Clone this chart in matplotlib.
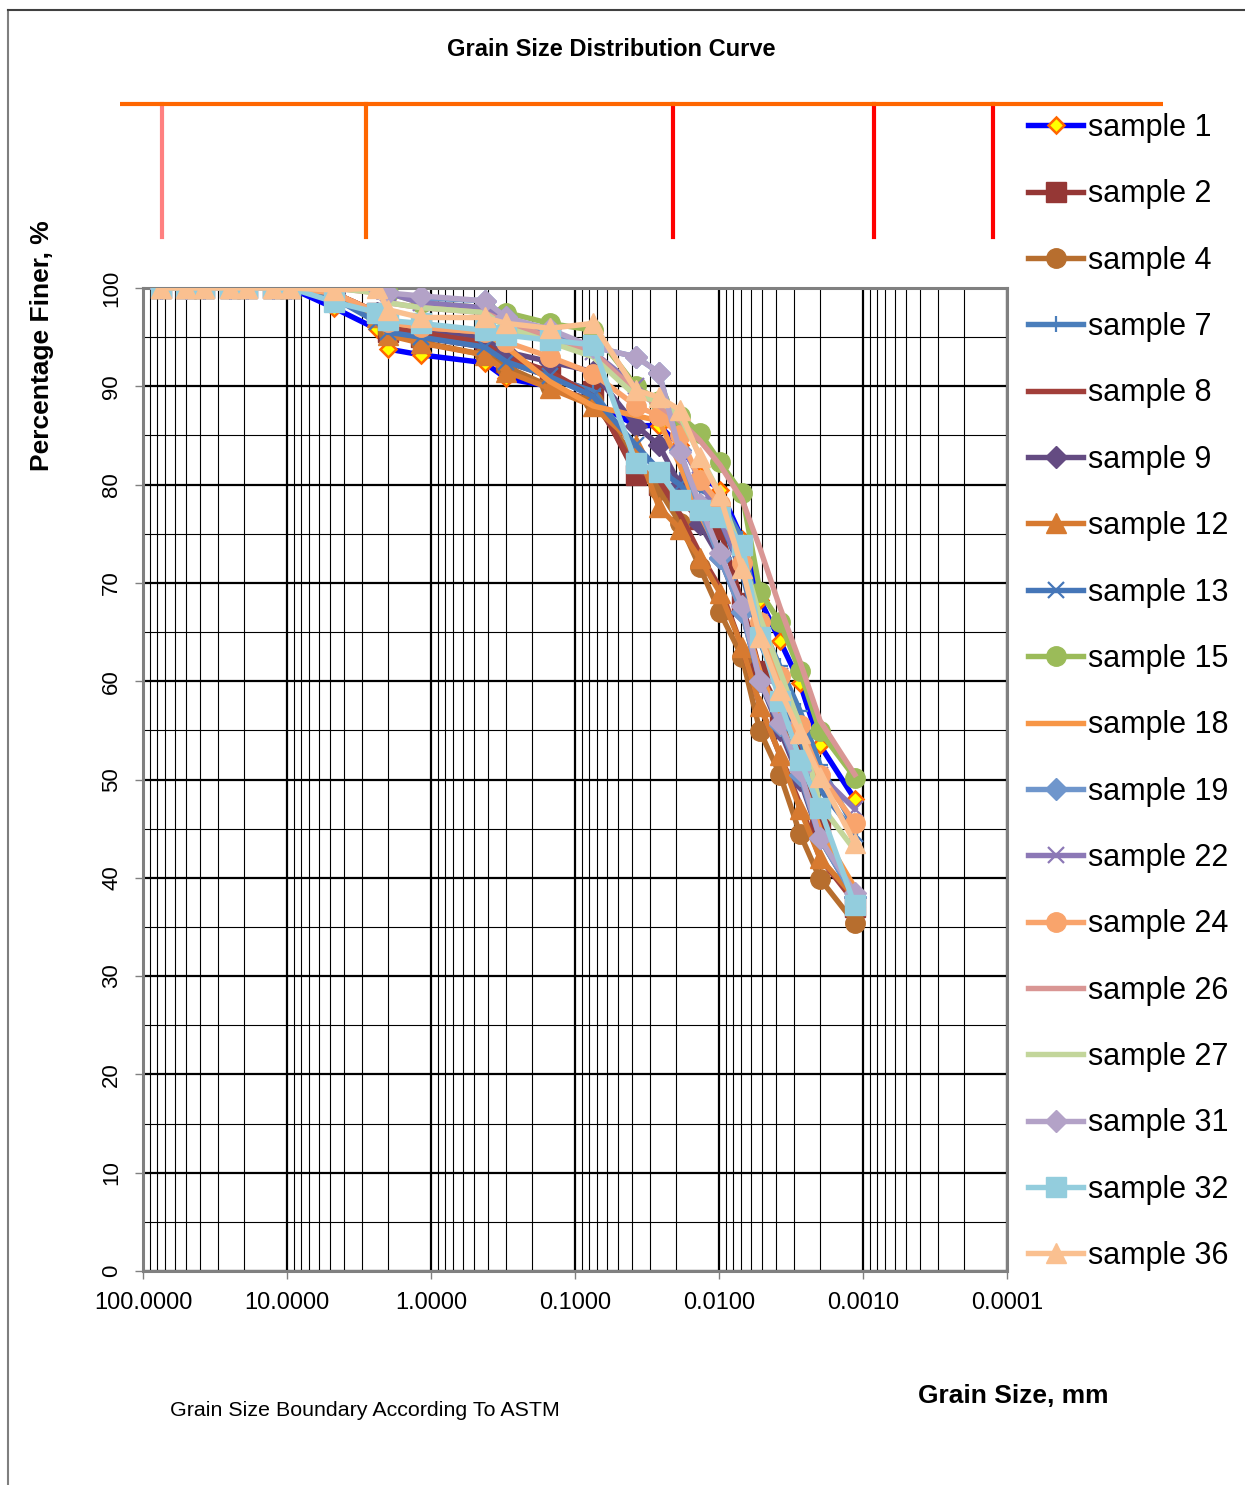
import matplotlib
matplotlib.use('Agg')
import matplotlib.pyplot as plt
from matplotlib.lines import Line2D
from matplotlib.ticker import LogLocator, MultipleLocator

plt.rcParams['font.family'] = ['Liberation Sans', 'DejaVu Sans']

# grain sizes, mm (sieves, then hydrometer readings)
sieve_mm = [75, 50, 37.5, 25, 19, 12.5, 9.5, 4.75, 2.36, 2.0, 1.18, 0.425, 0.3, 0.15, 0.075]
hydro_mm = [0.0377, 0.0261, 0.0187, 0.0136, 0.00985, 0.00692, 0.00519, 0.00377, 0.00274, 0.00199, 0.00114]
sizes = sieve_mm + hydro_mm

# percentage finer for each sample
top = [100, 100, 100, 100, 100, 100, 100]
s1 = top + [98.0, 95.8, 93.8, 93.2, 92.4, 90.8, 90.0, 88.5] + [86.0, 86.0, 84.0, 81.0, 79.5, 74.5, 68.3, 64.1, 59.8, 53.5, 48.0]
s2 = top + [99.5, 97.5, 95.5, 95.0, 94.0, 92.5, 91.0, 89.5] + [81.0, 80.0, 78.5, 76.5, 75.5, 68.0, 61.0, 57.0, 52.5, 45.5, 37.0]
s4 = top + [99.5, 97.0, 95.5, 94.5, 93.2, 92.0, 90.0, 88.5] + [82.5, 79.5, 76.1, 71.6, 67.0, 62.5, 54.9, 50.5, 44.5, 39.9, 35.4]
s7 = top + [99.0, 97.0, 96.0, 95.5, 94.5, 93.0, 91.0, 89.5] + [83.5, 81.5, 80.5, 79.5, 78.5, 74.5, 66.0, 61.5, 57.0, 51.5, 45.0]
s8 = top + [99.5, 97.5, 96.0, 95.5, 94.5, 93.0, 91.5, 89.0] + [81.5, 80.5, 77.0, 73.0, 69.5, 63.5, 57.5, 52.5, 47.5, 42.0, 37.5]
s9 = top + [99.5, 97.5, 96.5, 96.0, 95.0, 93.5, 92.5, 91.5] + [86.0, 84.0, 80.0, 76.0, 72.5, 67.0, 60.0, 55.0, 50.0, 44.0, 38.0]
s12 = top + [99.5, 97.0, 95.2, 94.4, 93.2, 91.5, 89.8, 88.0] + [84.0, 77.7, 75.5, 72.5, 69.0, 63.5, 57.5, 52.5, 47.0, 42.0, 38.0]
s13 = top + [99.0, 96.5, 95.5, 95.0, 94.0, 92.5, 91.0, 89.0] + [84.0, 81.5, 80.0, 78.0, 76.5, 71.0, 64.0, 59.0, 54.0, 49.0, 44.5]
s15 = top + [100, 100, 99.5, 98.5, 98.0, 97.5, 96.4, 95.7] + [90.0, 88.5, 87.0, 85.3, 82.3, 79.1, 69.1, 66.0, 61.0, 54.9, 50.2]
s18 = top + [99.5, 97.5, 96.5, 96.0, 95.5, 94.0, 90.5, 88.0] + [87.0, 86.5, 82.0, 77.0, 73.0, 67.0, 61.0, 56.0, 50.5, 45.0, 39.0]
s19 = top + [100, 100, 99.5, 99.0, 98.7, 97.0, 95.5, 94.0] + [93.0, 91.4, 83.5, 77.5, 72.5, 67.0, 60.0, 55.5, 50.5, 44.0, 38.0]
s22 = top + [100, 100, 99.5, 98.5, 98.0, 96.5, 95.0, 93.5] + [90.0, 88.0, 84.5, 80.5, 76.5, 71.5, 66.0, 60.5, 55.0, 50.5, 47.0]
s24 = top + [99.5, 97.5, 96.5, 96.0, 95.5, 94.5, 93.0, 91.3] + [88.0, 87.0, 85.0, 80.5, 78.0, 72.0, 66.0, 60.5, 55.5, 50.5, 45.6]
s26 = top + [100, 99.5, 98.5, 98.0, 97.5, 96.5, 95.0, 93.5] + [89.5, 88.0, 86.5, 84.5, 82.0, 78.5, 73.5, 67.5, 62.0, 56.0, 50.5]
s27 = top + [100, 99.5, 98.5, 98.0, 97.5, 96.0, 94.5, 93.0] + [89.0, 88.5, 87.0, 83.0, 79.0, 73.0, 66.5, 61.0, 55.5, 47.5, 42.8]
s31 = top + [100, 100, 99.5, 99.2, 98.7, 97.0, 95.8, 94.0] + [93.0, 91.4, 83.3, 78.0, 73.0, 67.7, 60.0, 55.7, 51.0, 44.0, 38.5]
s32 = top + [98.6, 97.5, 96.7, 96.4, 95.7, 95.2, 94.7, 94.2] + [82.2, 81.3, 78.4, 77.4, 76.7, 73.9, 64.5, 58.0, 52.0, 47.1, 37.2]
s36 = top + [99.8, 100, 97.8, 97.0, 97.0, 96.4, 95.9, 96.4] + [89.6, 88.9, 87.6, 82.8, 78.9, 71.5, 64.5, 59.1, 54.7, 50.3, 43.5]

labels = ['sample 1', 'sample 2', 'sample 4', 'sample 7', 'sample 8', 'sample 9', 'sample 12',
          'sample 13', 'sample 15', 'sample 18', 'sample 19', 'sample 22', 'sample 24',
          'sample 26', 'sample 27', 'sample 31', 'sample 32', 'sample 36']
series = [s1, s2, s4, s7, s8, s9, s12, s13, s15, s18, s19, s22, s24, s26, s27, s31, s32, s36]
colors = ['#0000FF', '#953735', '#B76E2E', '#4A7EBB', '#A23F3A', '#644B82', '#D77A30',
          '#4576B8', '#9BBB59', '#F79646', '#6F96CC', '#8C78B6', '#F9A46C',
          '#D99694', '#C3D69B', '#B3A2C7', '#93CDDD', '#FAC090']
markers = ['D', 's', 'o', '+', None, 'D', '^', 'x', 'o', None, 'D', 'x', 'o', None, None, 'D', 's', '^']

# ASTM boundaries (separate scale on top strip)
boundary_mm = [75, 4.75, 0.075, 0.005, 0.001]
boundary_col = ['#FF8080', '#FF6600', '#FF0000', '#FF0000', '#FF0000']

W, H = 1245, 1485
fig = plt.figure(figsize=(W / 100, H / 100), dpi=100)

ax = fig.add_axes([143 / W, 1 - 1271 / H, (1007 - 143) / W, (1271 - 288) / H])
ax.set_xscale('log')
ax.set_xlim(100, 0.0001)
ax.set_ylim(0, 100)

for i in range(len(series)):
    m = markers[i]
    kw = dict(color=colors[i], lw=3.9, label=labels[i], zorder=3 + i)
    if m is not None:
        kw['marker'] = m
        kw['markersize'] = 14 if m in ('s', 'o', '^') else 11
        kw['markeredgecolor'] = colors[i]
        if m in ('+', 'x'):
            kw['markeredgewidth'] = 1.6
    if i == 0:
        kw['markerfacecolor'] = '#FFFF00'
        kw['markeredgecolor'] = '#FF6600'
        kw['markeredgewidth'] = 1.8
        kw['markersize'] = 8.5
    ax.plot(sizes, series[i], **kw)

ax.xaxis.set_major_locator(LogLocator(base=10, numticks=10))
ax.xaxis.set_minor_locator(LogLocator(base=10, subs=range(2, 10), numticks=20))
ax.xaxis.set_major_formatter(plt.FuncFormatter(lambda v, p: '%.4f' % v))
ax.xaxis.set_minor_formatter(plt.NullFormatter())
ax.yaxis.set_major_locator(MultipleLocator(10))
ax.yaxis.set_minor_locator(MultipleLocator(5))
ax.grid(which='major', color='black', lw=1.6, zorder=1)
ax.grid(which='minor', color='black', lw=0.8, zorder=1)
ax.set_axisbelow(True)
for s in ax.spines.values():
    s.set_color('#808080')
    s.set_linewidth(2.2)
ax.tick_params(which='major', direction='out', length=6, width=1, color='#808080')
ax.tick_params(which='minor', length=0)
ax.tick_params(axis='x', labelsize=17, pad=9)
ax.tick_params(axis='y', labelsize=16, labelrotation=90, pad=9)
for t in ax.get_yticklabels():
    t.set_va('center')

# top strip with ASTM boundaries
tx = fig.add_axes([120 / W, 1 - 237 / H, (1163 - 120) / W, (237 - 104) / H])
tx.set_xscale('log')
tx.set_xlim(132.2, 1.007e-4)
tx.set_ylim(0, 1)
for b, c in zip(boundary_mm, boundary_col):
    tx.plot([b, b], [0, 1], color=c, lw=3, clip_on=False)
tx.plot([132.2, 1.007e-4], [1, 1], color='#FF6600', lw=3, solid_capstyle='butt', clip_on=False)
tx.axis('off')

leg = fig.legend(loc='upper left', bbox_to_anchor=(1028 / W, 1 - 113 / H), frameon=False,
                 fontsize=22, handlelength=1.8, handletextpad=0.15, labelspacing=1.19,
                 borderpad=0, borderaxespad=0)

fig.text(611 / W, 1 - 50 / H, 'Grain Size Distribution Curve', fontsize=17, fontweight='bold',
         ha='center', va='center')
fig.text(42 / W, 1 - 346 / H, 'Percentage Finer, %', fontsize=19, fontweight='bold',
         rotation=90, ha='center', va='center')
fig.text(1013 / W, 1 - 1396 / H, 'Grain Size, mm', fontsize=19, fontweight='bold',
         ha='center', va='center')
fig.text(365 / W, 1 - 1411 / H, 'Grain Size Boundary According To ASTM', fontsize=15.4,
         ha='center', va='center')

# chart frame
fig.add_artist(Line2D([8 / W, 8 / W], [0, 1 - 10 / H], color='#7f7f7f', lw=1.5))
fig.add_artist(Line2D([8 / W, 1], [1 - 10 / H, 1 - 10 / H], color='#404040', lw=1.5))

fig.savefig('out.png', dpi=100)
